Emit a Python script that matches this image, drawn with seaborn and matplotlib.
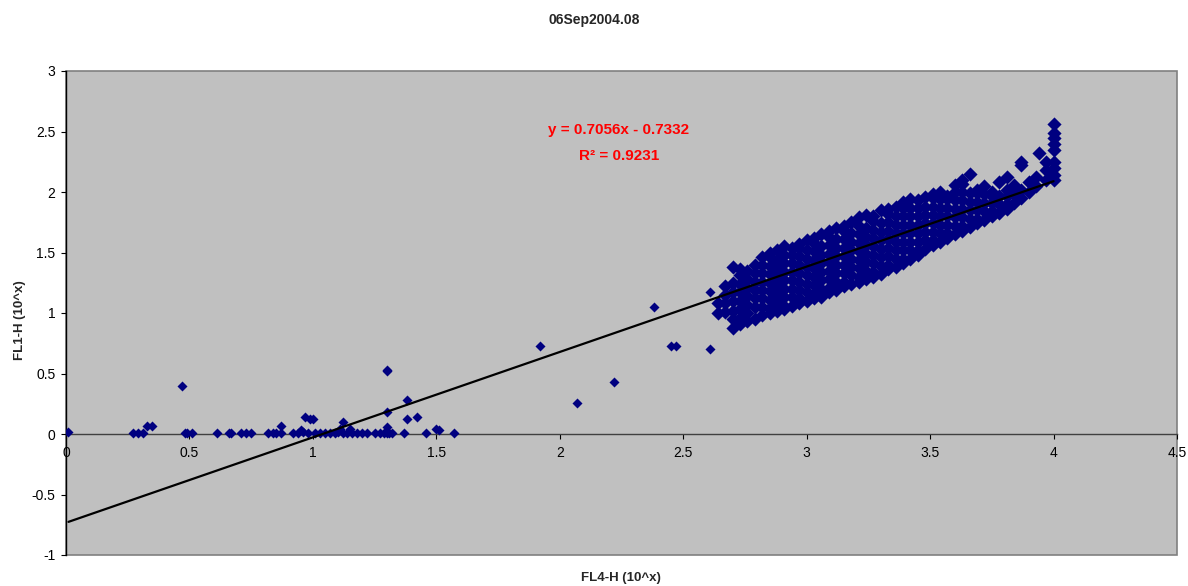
import pandas as pd
import matplotlib.pyplot as plt
import seaborn as sns
from matplotlib.patches import Rectangle

# Data (FL4-H vs FL1-H, log values)
# points lying on / near the baseline
low_x = [0.01, 0.27, 0.29, 0.31, 0.33, 0.35, 0.47, 0.48, 0.49, 0.51, 0.61, 0.66, 0.67,
         0.71, 0.73, 0.75, 0.82, 0.84, 0.85, 0.87, 0.87, 0.92, 0.94, 0.95, 0.96, 0.97,
         0.99, 1.00, 0.98, 1.01, 1.03, 1.05, 1.07, 1.09, 1.10, 1.12, 1.12, 1.14, 1.16,
         1.18, 1.20, 1.22, 1.25, 1.27, 1.29, 1.30, 1.30, 1.30, 1.30, 1.31, 1.32, 1.37,
         1.38, 1.38, 1.42, 1.46, 1.50, 1.51, 1.57, 1.11, 1.15, 1.30]
low_y = [0.02, 0.01, 0.01, 0.01, 0.07, 0.07, 0.40, 0.01, 0.01, 0.01, 0.01, 0.01, 0.01,
         0.01, 0.01, 0.01, 0.01, 0.01, 0.01, 0.07, 0.01, 0.01, 0.01, 0.03, 0.02, 0.14,
         0.12, 0.12, 0.01, 0.01, 0.01, 0.01, 0.01, 0.01, 0.02, 0.10, 0.01, 0.01, 0.01,
         0.01, 0.01, 0.01, 0.01, 0.01, 0.01, 0.52, 0.53, 0.18, 0.06, 0.01, 0.01, 0.01,
         0.28, 0.12, 0.14, 0.01, 0.04, 0.03, 0.01, 0.04, 0.04, 0.01]

# scattered points between the two groups
mid_x = [1.92, 2.07, 2.22, 2.38, 2.45, 2.47, 2.61, 2.61]
mid_y = [0.73, 0.26, 0.43, 1.05, 0.73, 0.73, 0.70, 1.17]

# main cluster, one column of y values per x value
col_x = [2.64, 2.67, 2.70, 2.73, 2.76, 2.79, 2.82, 2.85, 2.88, 2.91, 2.94, 2.97, 3.00,
         3.03, 3.06, 3.09, 3.12, 3.15, 3.18, 3.21, 3.24, 3.27, 3.30, 3.33, 3.36, 3.39,
         3.42, 3.45, 3.48, 3.51, 3.54, 3.57, 3.60, 3.63, 3.66, 3.69, 3.72, 3.75, 3.78,
         3.81, 3.84, 3.87, 3.90, 3.93, 3.94, 3.97, 4.00]
col_y = [
    [1.00, 1.08],
    [1.01, 1.08, 1.15, 1.22],
    [0.88, 0.95, 1.02, 1.10, 1.17, 1.25, 1.38],
    [0.91, 0.96, 1.03, 1.10, 1.17, 1.24, 1.31, 1.36],
    [0.93, 1.00, 1.07, 1.14, 1.21, 1.28, 1.35],
    [0.95, 1.05, 1.12, 1.19, 1.26, 1.33, 1.40],
    [0.98, 1.05, 1.12, 1.19, 1.26, 1.33, 1.40, 1.46],
    [1.00, 1.04, 1.11, 1.18, 1.25, 1.32, 1.39, 1.46, 1.50],
    [1.02, 1.09, 1.16, 1.23, 1.30, 1.37, 1.44, 1.52],
    [1.03, 1.06, 1.13, 1.20, 1.27, 1.34, 1.41, 1.48, 1.55],
    [1.06, 1.13, 1.20, 1.27, 1.34, 1.41, 1.48, 1.54],
    [1.08, 1.12, 1.19, 1.26, 1.33, 1.40, 1.47, 1.54, 1.57],
    [1.10, 1.17, 1.24, 1.31, 1.38, 1.45, 1.52, 1.60],
    [1.12, 1.16, 1.23, 1.30, 1.37, 1.44, 1.51, 1.58, 1.62],
    [1.13, 1.20, 1.27, 1.34, 1.41, 1.48, 1.55, 1.65],
    [1.17, 1.21, 1.28, 1.35, 1.42, 1.49, 1.56, 1.63, 1.68],
    [1.19, 1.26, 1.33, 1.40, 1.47, 1.54, 1.61, 1.70],
    [1.22, 1.26, 1.33, 1.40, 1.47, 1.54, 1.61, 1.68, 1.72],
    [1.24, 1.31, 1.38, 1.45, 1.52, 1.59, 1.66, 1.75],
    [1.26, 1.30, 1.37, 1.44, 1.51, 1.58, 1.65, 1.72, 1.79],
    [1.28, 1.35, 1.42, 1.49, 1.56, 1.63, 1.70, 1.81],
    [1.30, 1.34, 1.41, 1.48, 1.55, 1.62, 1.69, 1.76, 1.80],
    [1.32, 1.39, 1.46, 1.53, 1.60, 1.67, 1.74, 1.85],
    [1.36, 1.40, 1.47, 1.54, 1.61, 1.68, 1.75, 1.82, 1.86],
    [1.38, 1.45, 1.52, 1.59, 1.66, 1.73, 1.80, 1.88],
    [1.41, 1.45, 1.52, 1.59, 1.66, 1.73, 1.80, 1.87, 1.92],
    [1.45, 1.52, 1.59, 1.66, 1.73, 1.80, 1.87, 1.94],
    [1.48, 1.52, 1.59, 1.66, 1.73, 1.80, 1.87, 1.93],
    [1.53, 1.60, 1.67, 1.74, 1.81, 1.88, 1.96],
    [1.56, 1.60, 1.67, 1.74, 1.81, 1.88, 1.95, 1.98],
    [1.59, 1.66, 1.73, 1.80, 1.87, 1.94, 2.00],
    [1.62, 1.66, 1.73, 1.80, 1.87, 1.94, 1.97],
    [1.65, 1.72, 1.79, 1.86, 1.93, 2.00, 2.06],
    [1.68, 1.72, 1.79, 1.86, 1.93, 2.00, 2.07, 2.10],
    [1.71, 1.78, 1.85, 1.92, 1.99, 2.15],
    [1.74, 1.78, 1.85, 1.92, 1.99, 2.02],
    [1.77, 1.84, 1.91, 1.98, 2.05],
    [1.80, 1.84, 1.91, 1.97, 2.00],
    [1.83, 1.90, 1.97, 2.08],
    [1.86, 1.90, 1.97, 2.02, 2.12],
    [1.91, 1.98, 2.06],
    [1.95, 2.02, 2.22, 2.25],
    [2.00, 2.08],
    [2.05, 2.12],
    [2.32],
    [2.10, 2.18, 2.25],
    [2.10, 2.14, 2.20, 2.25, 2.35, 2.40, 2.45, 2.49, 2.56],
]

slope = 0.7056
intercept = -0.7332
r2 = 0.9231

x_ticks = [0, 0.5, 1, 1.5, 2, 2.5, 3, 3.5, 4, 4.5]
y_ticks = [-1, -0.5, 0, 0.5, 1, 1.5, 2, 2.5, 3]

# sparse points and the dense cluster as two tables
sparse = pd.DataFrame({'fl4': low_x + mid_x, 'fl1': low_y + mid_y})
rows = []
for x, ys in zip(col_x, col_y):
    for y in ys:
        rows.append((x, y))
cluster = pd.DataFrame(rows, columns=['fl4', 'fl1'])

sns.set_style('white')
plt.rcParams['font.family'] = ['Liberation Sans', 'DejaVu Sans']

fig = plt.figure(figsize=(11.88, 5.86), dpi=100)
ax = fig.add_axes([66 / 1188, 31 / 586, 1111 / 1188, 484 / 586])
ax.set_facecolor('#C0C0C0')

sns.scatterplot(data=sparse, x='fl4', y='fl1', marker='D', s=26, color='#000080',
                linewidth=0, ax=ax, zorder=3)
sns.scatterplot(data=cluster, x='fl4', y='fl1', marker='D', s=52, color='#000080',
                linewidth=0, ax=ax, zorder=3)

# linear trendline over the data range
xs = [min(sparse['fl4'].min(), cluster['fl4'].min()),
      max(sparse['fl4'].max(), cluster['fl4'].max())]
ax.plot(xs, [slope * v + intercept for v in xs], color='black', lw=1.6, zorder=4)

ax.set_xlim(0, 4.5)
ax.set_ylim(-1, 3)
ax.set_xticks(x_ticks)
ax.set_yticks(y_ticks)
ax.set_xticklabels([f'{t:g}' for t in x_ticks])
ax.set_yticklabels([f'{t:g}' for t in y_ticks])
ax.set_xlabel('')
ax.set_ylabel('')

for s in ['top', 'right']:
    ax.spines[s].set_visible(False)
ax.spines['bottom'].set_position(('data', 0))
ax.spines['bottom'].set_color('#404040')
ax.spines['bottom'].set_linewidth(1)
ax.spines['left'].set_color('black')
ax.spines['left'].set_linewidth(1)
ax.add_patch(Rectangle((0, 0), 1, 1, transform=ax.transAxes, fill=False,
                       edgecolor='#808080', lw=1.2, clip_on=False, zorder=0))

ax.tick_params(axis='both', direction='out', length=3.5, width=0.8,
               labelsize=10, colors='black', bottom=True, left=True)
ax.tick_params(axis='x', pad=5)
ax.tick_params(axis='y', pad=4)

ax.text(2.24, 2.51, f'y = {slope}x - {abs(intercept)}', color='#FF0000',
        fontsize=11, fontweight='bold', ha='center', va='center')
ax.text(2.24, 2.30, f'R\u00b2 = {r2}', color='#FF0000',
        fontsize=11, fontweight='bold', ha='center', va='center')

fig.text(594 / 1188, 1 - 20 / 586, '06Sep2004.08', fontsize=10, fontweight='bold',
         ha='center', va='center')
fig.text(621 / 1188, 1 - 578 / 586, 'FL4-H (10^x)', fontsize=9.5, fontweight='bold',
         ha='center', va='center')
fig.text(20 / 1188, 1 - 320 / 586, 'FL1-H (10^x)', fontsize=9.5, fontweight='bold',
         ha='center', va='center', rotation=90)

fig.savefig('out.png', dpi=100)
